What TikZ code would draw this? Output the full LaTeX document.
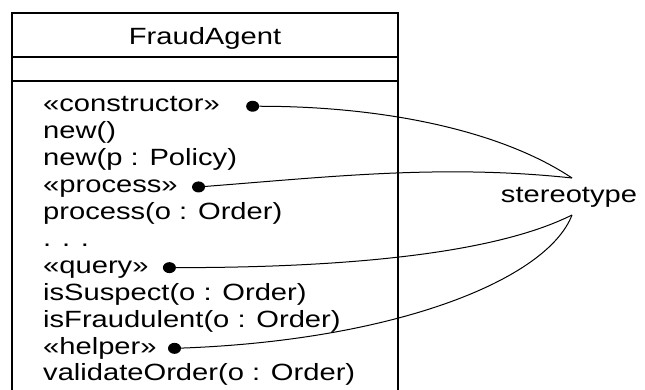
\documentclass[tikz,border=0pt]{standalone}
\usepackage{fontspec}
\setmainfont[FakeStretch = 1.24]{Liberation Sans}
\usetikzlibrary{positioning}
\usetikzlibrary{shapes}
\tikzset{
  x = 1pt, y = 1pt,
  label font/.style = {font = \fontsize{23.5}{26.5}\selectfont},
  member/.style = {label font, inner sep = 0, text height = 19pt, text depth = 7.5pt},
  hook/.style = {ellipse, fill, inner sep = 0, minimum width = 13pt, minimum height = 11pt},
  frame/.style = {line width = 1.5pt},
  link/.style = {line width = 1pt},
}

\begin{document}
\begin{tikzpicture}
  \useasboundingbox (0,0) rectangle (645,390);
  % class box
  \draw [frame] (12,0) |- (398,377) -- (398,0);
  \draw [frame] (12,333) -- (398,333);
  \draw [frame] (12,309) -- (398,309);
  % nodes
  \node [label font, anchor = base] (name) at (205,345) {FraudAgent};
  \node [member, anchor = base west] (ctor) at (43,278) {«constructor»};
  \node [member, below right = 0pt and 0pt of ctor.south west] (newa) {new()};
  \node [member, below right = 0pt and 0pt of newa.south west] (newb) {new(p : Policy)};
  \node [member, below right = 0pt and 0pt of newb.south west] (proc) {«process»};
  \node [member, below right = 0pt and 0pt of proc.south west] (procop) {process(o : Order)};
  \node [member, below right = 0pt and 0pt of procop.south west] (more) {. . .};
  \node [member, below right = 0pt and 0pt of more.south west] (query) {«query»};
  \node [member, below right = 0pt and 0pt of query.south west] (suspect) {isSuspect(o : Order)};
  \node [member, below right = 0pt and 0pt of suspect.south west] (fraud) {isFraudulent(o : Order)};
  \node [member, below right = 0pt and 0pt of fraud.south west] (helper) {«helper»};
  \node [member, below right = 0pt and 0pt of helper.south west] (validate) {validateOrder(o : Order)};
  \node [hook, right = 26pt of ctor] (ctorhook) {};
  \node [hook, right = 14pt of proc] (prochook) {};
  \node [hook, right = 14pt of query] (queryhook) {};
  \node [hook, right = 11pt of helper] (helperhook) {};
  \node [label font, anchor = base] (stereo) at (569,187) {stereotype};
  \coordinate (up) at (572,212);
  \coordinate (low) at (572,175);
  % edges
  \draw [link] (ctorhook) .. controls +(130,0) and +(-72,48) .. (up);
  \draw [link] (prochook) .. controls +(130,10) and +(-130,14) .. (up);
  \draw [link] (queryhook) .. controls +(170,0) and +(-80,-40) .. (low);
  \draw [link] (helperhook) .. controls +(220,8) and +(-25,-65) .. (low);
\end{tikzpicture}
\end{document}
